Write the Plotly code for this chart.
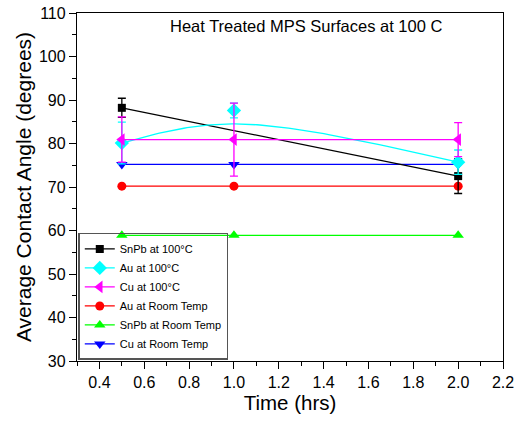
import numpy as np
import plotly.graph_objects as go

# ---- data ----
time_two = [0.5, 2.0]
time_three = [0.5, 1.0, 2.0]

snpb_100 = [88.2, 72.5]
snpb_100_err = [2.2, 4.0]

au_100 = [80.1, 87.6, 75.7]
au_100_err = [4.8, 1.7, 2.8]

cu_100 = [80.9, 80.9, 80.9]
cu_100_err = [5.2, 8.4, 3.9]

au_rt = [70.2, 70.2, 70.2]
snpb_rt = [58.9, 58.9, 58.9]
cu_rt = [75.2, 75.2, 75.2]

names = ["SnPb at 100°C", "Au at 100°C", "Cu at 100°C",
         "Au at Room Temp", "SnPb at Room Temp", "Cu at Room Temp"]

FONT = "Arial, Liberation Sans, sans-serif"

fig = go.Figure()

# smooth connector for Au at 100C (rational Bezier using the data points as control points)
def bezier_connector(xs, ys, w=2.0, n=80):
    t = np.linspace(0, 1, n)
    b0, b1, b2 = (1 - t) ** 2, 2 * w * t * (1 - t), t ** 2
    d = b0 + b1 + b2
    bx = (xs[0] * b0 + xs[1] * b1 + xs[2] * b2) / d
    by = (ys[0] * b0 + ys[1] * b1 + ys[2] * b2) / d
    return bx, by

cx, cy = bezier_connector(time_three, au_100)

lw = 1.3

fig.add_trace(go.Scatter(x=time_three, y=cu_rt, mode="lines+markers", name=names[5],
                         line=dict(color="#0000FF", width=lw),
                         marker=dict(symbol="triangle-down", size=10, color="#0000FF"),
                         legendrank=6))
fig.add_trace(go.Scatter(x=time_three, y=snpb_rt, mode="lines+markers", name=names[4],
                         line=dict(color="#00FF00", width=lw),
                         marker=dict(symbol="triangle-up", size=10, color="#00FF00"),
                         legendrank=5))
fig.add_trace(go.Scatter(x=time_three, y=au_rt, mode="lines+markers", name=names[3],
                         line=dict(color="#FF0000", width=lw),
                         marker=dict(symbol="circle", size=9, color="#FF0000"),
                         legendrank=4))
fig.add_trace(go.Scatter(x=time_two, y=snpb_100, mode="lines+markers", name=names[0],
                         line=dict(color="#000000", width=lw),
                         marker=dict(symbol="square", size=8, color="#000000"),
                         error_y=dict(type="data", array=snpb_100_err, color="#000000",
                                      thickness=1.3, width=4),
                         legendrank=1))
fig.add_trace(go.Scatter(x=cx, y=cy, mode="lines", showlegend=False, hoverinfo="skip",
                         line=dict(color="#00FFFF", width=lw)))
fig.add_trace(go.Scatter(x=time_three, y=au_100, mode="markers", showlegend=False,
                         marker=dict(symbol="diamond", size=11, color="#00FFFF"),
                         error_y=dict(type="data", array=au_100_err, color="#00FFFF",
                                      thickness=1.3, width=4)))
fig.add_trace(go.Scatter(x=[None], y=[None], mode="lines+markers", name=names[1],
                         line=dict(color="#00FFFF", width=lw),
                         marker=dict(symbol="diamond", size=11, color="#00FFFF"),
                         legendrank=2))
fig.add_trace(go.Scatter(x=time_three, y=cu_100, mode="lines+markers", name=names[2],
                         line=dict(color="#FF00FF", width=lw),
                         marker=dict(symbol="triangle-left", size=11, color="#FF00FF"),
                         error_y=dict(type="data", array=cu_100_err, color="#FF00FF",
                                      thickness=1.3, width=4),
                         legendrank=3))

axis_common = dict(showline=True, linecolor="black", linewidth=1.3, mirror=True,
                   ticks="outside", ticklen=7, tickwidth=1.2, tickcolor="black",
                   showgrid=False, zeroline=False, automargin=False,
                   tickfont=dict(family=FONT, size=16, color="black"))

fig.update_xaxes(range=[0.3, 2.2], tick0=0.4, dtick=0.2, tickformat=".1f",
                 minor=dict(ticks="outside", ticklen=4, tick0=0.3, dtick=0.1,
                            tickcolor="black", tickwidth=1.2),
                 title=dict(text="Time (hrs)", font=dict(family=FONT, size=20.5, color="black"),
                            standoff=1),
                 **axis_common)
fig.update_yaxes(range=[30, 110], tick0=30, dtick=10,
                 minor=dict(ticks="outside", ticklen=4, dtick=5,
                            tickcolor="black", tickwidth=1.2),
                 title=dict(text="Average Contact Angle (degrees)",
                            font=dict(family=FONT, size=21, color="black"), standoff=1),
                 **axis_common)

fig.add_annotation(text="Heat Treated MPS Surfaces at 100 C", xref="paper", yref="paper",
                   x=0.537, y=0.995, xanchor="center", yanchor="top", showarrow=False,
                   font=dict(family=FONT, size=16.5, color="black"))

fig.update_layout(
    width=525, height=424,
    margin=dict(l=77, r=22, t=13, b=63),
    paper_bgcolor="white", plot_bgcolor="white",
    showlegend=True,
    legend=dict(x=0.003, y=0.003, xanchor="left", yanchor="bottom",
                bgcolor="rgba(255,255,255,0)", bordercolor="#555555", borderwidth=1.5,
                font=dict(family=FONT, size=11, color="black"),
                tracegroupgap=0, itemwidth=30),
)

fig.write_html("out.html", config={"displayModeBar": False},
               post_script="document.body.style.margin='0';")
